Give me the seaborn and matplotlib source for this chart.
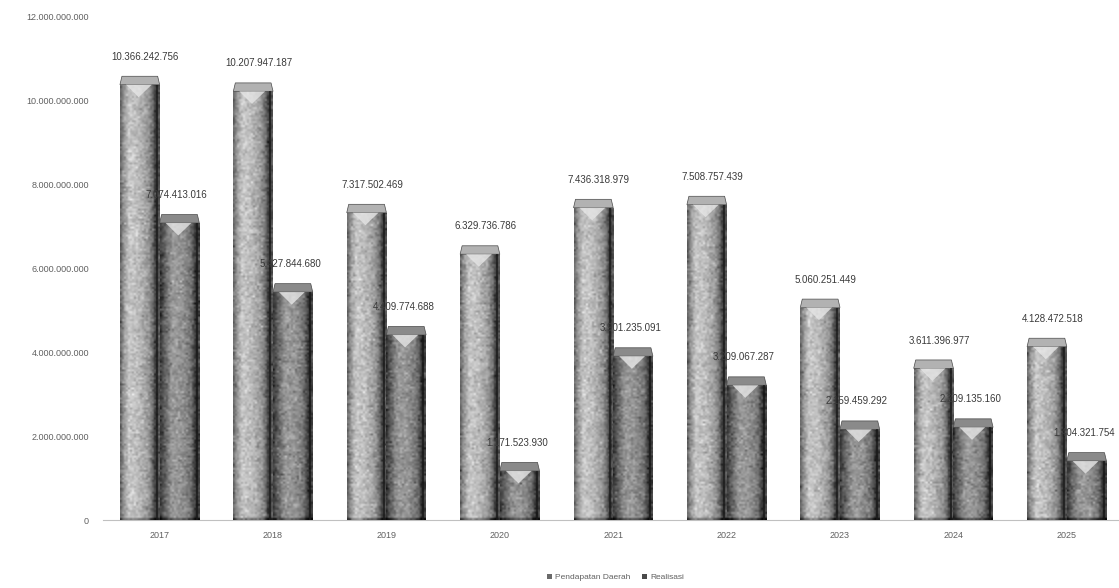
import numpy as np
import pandas as pd
import matplotlib
matplotlib.use("Agg")
import matplotlib.pyplot as plt
import seaborn as sns
from matplotlib.patches import Patch, Polygon
from matplotlib.ticker import FuncFormatter

# ---- data -------------------------------------------------------------
years = ["2017", "2018", "2019", "2020", "2021", "2022", "2023", "2024", "2025"]
pendapatan = [10366242756, 10207947187, 7317502469, 6329736786, 7436318979,
              7508757439, 5060251449, 3611396977, 4128472518]
realisasi = [7074413016, 5427844680, 4409774688, 1171523930, 3901235091,
             3209067287, 2159459292, 2209135160, 1404321754]
series_names = ["Pendapatan Daerah", "Realisasi"]
y_ticks = [0, 2e9, 4e9, 6e9, 8e9, 10e9, 12e9]

df = pd.DataFrame({
    "Tahun": years * 2,
    "Nilai": pendapatan + realisasi,
    "Seri": [series_names[0]] * len(years) + [series_names[1]] * len(years),
})

sns.set_theme(style="white")
plt.rcParams["font.family"] = ["Liberation Sans", "DejaVu Sans"]

fig = plt.figure(figsize=(11.19, 5.88), dpi=100)
ax = fig.add_axes([0.092, 0.1156, 0.912, 0.8571])

sns.barplot(data=df, x="Tahun", y="Nilai", hue="Seri", hue_order=series_names,
            palette=["#a8a8a8", "#7a7a7a"], width=0.7, ax=ax,
            legend=False, saturation=1, errorbar=None)

ax.set_ylim(0, 12e9)
ax.set_xlim(-0.5, len(years) - 0.5)

# ---- shaded, grainy "3D" column look ---------------------------------
rng = np.random.default_rng(7)

def profile(stops, n=20):
    xs = np.linspace(0, 1, n)
    pos = [s[0] for s in stops]
    val = [s[1] for s in stops]
    return np.interp(xs, pos, val)

profiles = [
    profile([(0, 0.42), (0.07, 0.58), (0.22, 0.78), (0.45, 0.74),
             (0.72, 0.60), (0.84, 0.42), (0.92, 0.18), (1.0, 0.34)]),
    profile([(0, 0.24), (0.10, 0.38), (0.30, 0.60), (0.55, 0.58),
             (0.78, 0.46), (0.88, 0.28), (0.94, 0.12), (1.0, 0.28)]),
]
cap = 0.20e9          # depth of the top face
px_per_unit = 42e-9   # vertical pixels per data unit (for grain size)

for k, cont in enumerate(ax.containers):
    base = profiles[k]
    for p in cont.patches:
        x0, w, h = p.get_x(), p.get_width(), p.get_height()
        rows = max(int(h * px_per_unit / 2), 3)
        img = np.tile(base, (rows, 1))
        img = img + rng.normal(0, 0.06, img.shape)
        img[-1:, :] -= 0.25  # darker foot of the column
        img = np.clip(img, 0, 1)
        p.set_facecolor("none")
        p.set_edgecolor("none")
        im = ax.imshow(img, extent=[x0, x0 + w, 0, h], aspect="auto",
                       cmap="gray", vmin=0, vmax=1, zorder=2,
                       interpolation="bilinear")
        im.set_clip_path(p)
        # top face
        top = Polygon([(x0, h), (x0 + w, h), (x0 + w * 0.95, h + cap),
                       (x0 + w * 0.05, h + cap)], closed=True,
                      facecolor="#b2b2b2" if k == 0 else "#8a8a8a",
                      edgecolor="#4a4a4a", lw=0.5, zorder=3)
        ax.add_patch(top)
        # light chevron just under the top face
        chev = Polygon([(x0 + w * 0.15, h), (x0 + w * 0.80, h),
                        (x0 + w * 0.47, h - cap * 1.5)], closed=True,
                       facecolor="#e6e6e6", edgecolor="none", alpha=0.8,
                       zorder=3)
        ax.add_patch(chev)
        # dark right edge
        ax.plot([x0 + w * 0.93, x0 + w * 0.93], [0, h], color="#1a1a1a",
                lw=1.3, alpha=0.8, zorder=3, solid_capstyle="butt")

# ---- value labels ----------------------------------------------------
def fmt_dots(v):
    return f"{int(round(v)):,}".replace(",", ".")

for k, cont in enumerate(ax.containers):
    vals = pendapatan if k == 0 else realisasi
    for p, v in zip(cont.patches, vals):
        xc = p.get_x() + p.get_width() / 2
        ax.annotate(fmt_dots(v), (xc, v + cap), xytext=(-2 if k else 4, 14),
                    textcoords="offset points", ha="center", va="center",
                    fontsize=7, color="#3a3a3a", zorder=5)

# ---- axes styling ----------------------------------------------------
ax.set_yticks(y_ticks)
ax.yaxis.set_major_formatter(FuncFormatter(lambda v, _: fmt_dots(v)))
ax.tick_params(axis="y", labelsize=6.5, colors="#606060", length=0, pad=10)
ax.tick_params(axis="x", labelsize=6.5, colors="#606060", length=0, pad=8)
ax.set_xlabel("")
ax.set_ylabel("")
ax.grid(False)
for side in ["left", "right", "top"]:
    ax.spines[side].set_visible(False)
ax.spines["bottom"].set_color("#c0c0c0")
ax.spines["bottom"].set_linewidth(0.8)

handles = [Patch(facecolor="#6a6a6a", edgecolor="none", label=series_names[0]),
           Patch(facecolor="#4a4a4a", edgecolor="none", label=series_names[1])]
fig.legend(handles=handles, loc="center", bbox_to_anchor=(0.55, 0.018),
           ncol=2, frameon=False, fontsize=6, handlelength=0.6,
           handleheight=0.6, handletextpad=0.3, columnspacing=1.5,
           labelcolor="#606060")

fig.savefig("out.png", dpi=100, facecolor="white")
